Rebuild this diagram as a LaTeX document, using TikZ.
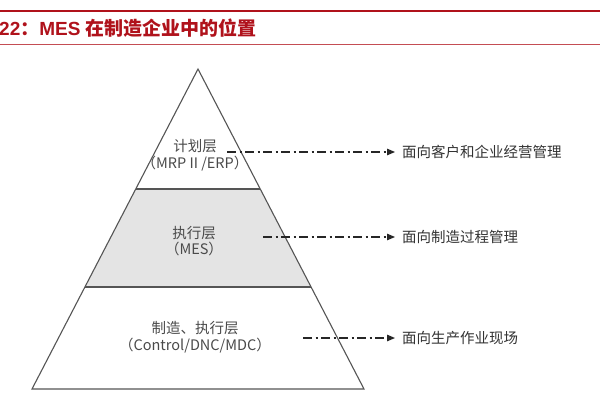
\documentclass[tikz,border=0pt]{standalone}
\usepackage{fontspec}
\setmainfont{Liberation Sans}
\newfontfamily\cjk{Noto Sans CJK SC}
\usetikzlibrary{arrows.meta}
\definecolor{hdrred}{HTML}{B0121B}
\definecolor{edgegray}{HTML}{555555}
\definecolor{bandgray}{HTML}{E4E4E4}
\definecolor{lblgray}{HTML}{4A4A4A}
\begin{document}
\begin{tikzpicture}[x=1pt,y=-1pt,
  edge/.style={draw=edgegray, line width=1.1pt, line join=miter},
  sepline/.style={draw=edgegray, line width=1.5pt},
  lbl/.style={font=\cjk\fontsize{14.5}{16.5}\selectfont, text=lblgray, align=center, inner sep=0pt},
  tgt/.style={font=\cjk\fontsize{14.5}{17}\selectfont, text=black!80, anchor=west, inner sep=0pt},
  dd/.style={line width=1.2pt, draw=black!85, dash pattern=on 9pt off 3.5pt on 2pt off 3.5pt,
             -{Triangle[length=8pt,width=6.5pt]}, shorten >=7pt}
]
\useasboundingbox (0,0) rectangle (600,400);
\fill[white] (0,0) rectangle (600,400);
% header
\draw[hdrred, line width=2.5pt] (0,11) -- (600,11);
\draw[hdrred!75, line width=0.8pt] (0,44) -- (600,44);
\node[anchor=west, inner sep=0pt, text=hdrred, font=\fontsize{19}{21}\selectfont\bfseries] (title) at (-1,28)
  {22{\cjk\bfseries ：}MES {\cjk\bfseries 在制造企业中的位置}};
% pyramid
\coordinate (apex) at (198,69);
\coordinate (bl) at (32,389);
\coordinate (br) at (364,389);
\coordinate (m1l) at (135.75,189);
\coordinate (m1r) at (260.25,189);
\coordinate (m2l) at (84.9,287);
\coordinate (m2r) at (311.1,287);
\fill[bandgray] (m1l) -- (m1r) -- (m2r) -- (m2l) -- cycle;
\draw[edge] (apex) -- (bl) -- (br) -- cycle;
\draw[sepline] (m1l) -- (m1r);
\draw[sepline] (m2l) -- (m2r);
% layer labels
\node[lbl] (plan) at (195,155) {计划层\\（MRP II /ERP）};
\node[lbl] (mes) at (194,241) {执行层\\（MES）};
\node[lbl] (ctrl) at (195,337) {制造、执行层\\（Control/DNC/MDC）};
% targets
\node[tgt] (t1) at (402,152) {面向客户和企业经营管理};
\node[tgt] (t2) at (402,237) {面向制造过程管理};
\node[tgt] (t3) at (402,338) {面向生产作业现场};
% arrows
\coordinate (a1) at (227,152);
\coordinate (a2) at (263,237);
\coordinate (a3) at (303,338);
\draw[dd] (a1) -- (t1.west);
\draw[dd] (a2) -- (t2.west);
\draw[dd] (a3) -- (t3.west);
\end{tikzpicture}
\end{document}
